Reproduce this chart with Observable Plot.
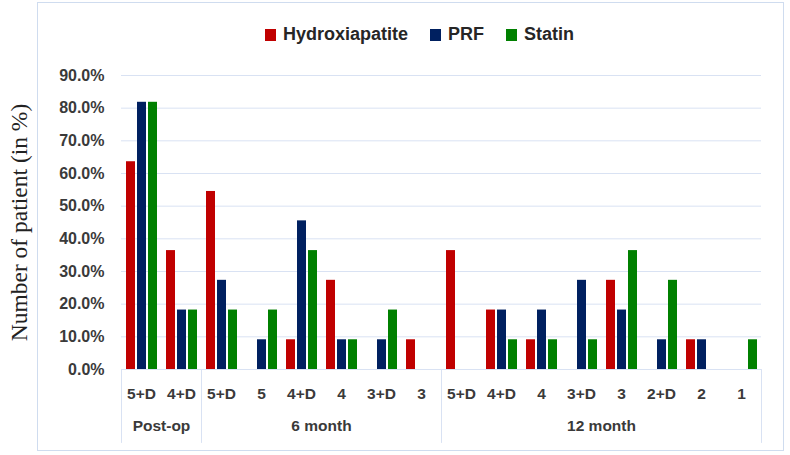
<!DOCTYPE html>
<html>
<head>
<meta charset="utf-8">
<script src="https://cdn.jsdelivr.net/npm/d3@7"></script>
<script src="https://cdn.jsdelivr.net/npm/@observablehq/plot@0.6"></script>
<style>
  html, body { margin: 0; padding: 0; background: #fff; }
  #wrap { position: relative; width: 790px; height: 455px; overflow: hidden; font-family: "Liberation Sans", Arial, sans-serif; }
  #border { position: absolute; left: 37px; top: 2px; width: 747px; height: 449px; border: 1px solid #cfdcef; box-sizing: border-box; }
  #legend { position: absolute; left: 265px; top: 24px; display: flex; align-items: center; font-weight: bold; font-size: 18px; color: #262626; }
  #legend .item { display: flex; align-items: center; margin-right: 22px; }
  #legend .sw { width: 11px; height: 12px; margin-right: 7px; }
  #chart { position: absolute; left: 0; top: 0; }
</style>
</head>
<body>
<div id="wrap">
  <div id="border"></div>
  <div id="chart"></div>
  <div id="legend"></div>
</div>
<script>
// ---- data ----
const series = ["Hydroxiapatite", "PRF", "Statin"];
const seriesColors = ["#c00000", "#002060", "#008000"];
const periods = ["Post-op","Post-op","6 month","6 month","6 month","6 month","6 month","6 month",
                 "12 month","12 month","12 month","12 month","12 month","12 month","12 month","12 month"];
const grades  = ["5+D","4+D","5+D","5","4+D","4","3+D","3","5+D","4+D","4","3+D","3","2+D","2","1"];
const hydroxiapatite = [63.6,36.4,54.5,0,9.1,27.3,0,9.1,36.4,18.2,9.1,0,27.3,0,9.1,0];
const prf            = [81.8,18.2,27.3,9.1,45.5,9.1,9.1,0,0,18.2,18.2,27.3,18.2,9.1,9.1,0];
const statin         = [81.8,18.2,18.2,18.2,36.4,9.1,18.2,0,0,9.1,9.1,9.1,36.4,27.3,0,9.1];
const groupNames = ["Post-op", "6 month", "12 month"];
const yTicks = [0,10,20,30,40,50,60,70,80,90];
const yTitle = "Number of patient (in %)";

// ---- derived tables ----
const ids = grades.map((g, i) => periods[i] + "|" + g);
const valuesBySeries = [hydroxiapatite, prf, statin];
const rows = [];
ids.forEach((id, i) => series.forEach((s, j) => rows.push({id, series: s, value: valuesBySeries[j][i]})));

const groups = groupNames.map(name => {
  const idx = periods.map((p, i) => p === name ? i : -1).filter(i => i >= 0);
  return {name, first: idx[0], last: idx[idx.length - 1], size: idx.length};
});
const groupLabels = groups.map(g => ({id: ids[g.first + g.size / 2 - 1], name: g.name}));
const leftSeps = groups.map(g => ({id: ids[g.first]}));
const rightSeps = [{id: ids[groups[groups.length - 1].last]}];

const lineShape = { draw(context, l) { context.moveTo(0, 0); context.lineTo(0, -l); } };
const textColor = "#3a3a3a";
const gridColor = "#d9e2f3";

const plot = Plot.plot({
  width: 790,
  height: 455,
  marginTop: 75,
  marginBottom: 86,
  marginLeft: 116,
  marginRight: 25,
  style: {fontFamily: "'Liberation Sans', Arial, sans-serif", background: "transparent"},
  fx: {domain: ids, padding: 0, label: null},
  x: {domain: series, paddingInner: 0.22, paddingOuter: 0.375, axis: null},
  y: {domain: [0, 90], label: null},
  color: {domain: series, range: seriesColors},
  marks: [
    Plot.gridY(yTicks, {stroke: gridColor, strokeOpacity: 1, strokeWidth: 1}),
    Plot.axisY(yTicks, {tickSize: 0, tickPadding: 17, tickFormat: d => d.toFixed(1) + "%",
      fontSize: 16, fontWeight: "bold", fill: textColor, label: null}),
    Plot.axisFx({anchor: "bottom", tickSize: 0, tickPadding: 18, tickFormat: id => id.split("|")[1],
      fontSize: 15.5, fontWeight: "bold", fill: textColor, label: null}),
    Plot.barY(rows, {fx: "id", x: "series", y: "value", fill: "series"}),
    Plot.text(groupLabels, {fx: "id", text: "name", frameAnchor: "bottom-right", textAnchor: "middle",
      dy: 61, fontSize: 15.5, fontWeight: "bold", fill: textColor}),
    Plot.vector(leftSeps, {fx: "id", frameAnchor: "bottom-left", anchor: "start", rotate: 180, length: 73,
      shape: lineShape, stroke: gridColor, strokeWidth: 1}),
    Plot.vector(rightSeps, {fx: "id", frameAnchor: "bottom-right", anchor: "start", rotate: 180, length: 73,
      shape: lineShape, stroke: gridColor, strokeWidth: 1}),
    Plot.text([yTitle], {fx: [ids[0]], text: d => d, frameAnchor: "left", textAnchor: "middle", rotate: -90, dx: -102,
      fontFamily: "'Liberation Serif', 'Times New Roman', serif", fontSize: 23.5, fill: "#222"})
  ]
});
document.getElementById("chart").appendChild(plot);

const legend = document.getElementById("legend");
series.forEach((s, i) => {
  const item = document.createElement("div");
  item.className = "item";
  const sw = document.createElement("span");
  sw.className = "sw";
  sw.style.background = seriesColors[i];
  const label = document.createElement("span");
  label.textContent = s;
  item.appendChild(sw);
  item.appendChild(label);
  legend.appendChild(item);
});
</script>
</body>
</html>
